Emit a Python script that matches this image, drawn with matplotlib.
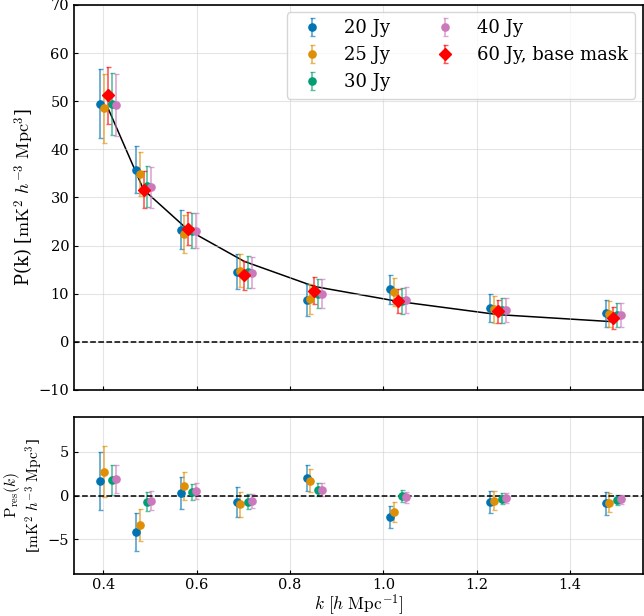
import numpy as np
import matplotlib
matplotlib.use("Agg")
import matplotlib.pyplot as plt

plt.rcParams['font.family'] = 'DejaVu Serif'
plt.rcParams['mathtext.fontset'] = 'cm'

# bin centres in k [h/Mpc]
k_bins = np.array([0.410, 0.486, 0.582, 0.702, 0.852, 1.031, 1.246, 1.493])
dk = 0.0083

labels = ['20 Jy', '25 Jy', '30 Jy', '40 Jy', '60 Jy, base mask']
colors = ['#0173b2', '#de8f05', '#029e73', '#cc78bc', 'red']
markers = ['o', 'o', 'o', 'o', 'D']
shifts = [-2, -1, 1, 2, 0]

# power spectra
p20 = [49.5, 35.8, 23.3, 14.6, 8.7, 10.9, 7.0, 5.9]
e20 = [7.2, 4.8, 4.0, 3.7, 3.3, 2.95, 2.9, 2.8]
p25 = [48.5, 34.9, 22.4, 14.8, 8.9, 10.3, 6.8, 5.8]
e25 = [7.1, 4.6, 3.9, 3.5, 3.2, 2.9, 2.8, 2.7]
p30 = [49.4, 32.3, 23.1, 14.5, 10.0, 8.5, 6.6, 5.6]
e30 = [6.5, 4.2, 3.6, 3.3, 3.0, 2.7, 2.6, 2.45]
p40 = [49.2, 32.1, 23.1, 14.4, 10.0, 8.7, 6.6, 5.6]
e40 = [6.5, 4.2, 3.6, 3.3, 3.0, 2.7, 2.55, 2.45]
p60 = [51.2, 31.6, 23.5, 13.8, 10.6, 8.5, 6.3, 5.0]
e60 = [6.0, 3.9, 3.4, 3.0, 2.8, 2.5, 2.3, 2.3]
model = [48.5, 31.6, 23.2, 16.7, 11.5, 8.4, 5.65, 4.17]

# residuals
r20 = [1.67, -4.2, 0.27, -0.72, 2.0, -2.46, -0.72, -0.9]
re20 = [3.3, 2.15, 1.85, 1.7, 1.5, 1.27, 1.3, 1.28]
r25 = [2.73, -3.37, 1.1, -1.02, 1.7, -1.85, -0.57, -0.8]
re25 = [2.95, 1.85, 1.6, 1.38, 1.3, 1.15, 1.04, 1.08]
r30 = [1.78, -0.68, 0.45, -0.68, 0.65, -0.07, -0.34, -0.49]
re30 = [1.7, 1.06, 0.93, 0.85, 0.75, 0.68, 0.58, 0.55]
r40 = [1.93, -0.57, 0.53, -0.6, 0.68, -0.22, -0.3, -0.45]
re40 = [1.6, 1.08, 0.9, 0.83, 0.75, 0.64, 0.58, 0.55]

pk = [p20, p25, p30, p40, p60]
pk_err = [e20, e25, e30, e40, e60]
res = [r20, r25, r30, r40]
res_err = [re20, re25, re30, re40]


def draw_errorbar(ax, x, y, yerr, color, marker, label=None):
    ms = 6 if marker == 'D' else 5.2
    eb = ax.errorbar(x, y, yerr=yerr, fmt=marker, color=color, ms=ms,
                     elinewidth=1.2, capsize=1.8, capthick=1.0, label=label)
    for c in eb[2]:
        c.set_alpha(0.65)
    for c in eb[1]:
        c.set_alpha(0.65)
    return eb


fig = plt.figure(figsize=(6.44, 6.16), dpi=100)
ax1 = fig.add_axes([0.115, 0.367, 0.883, 0.625])
ax2 = fig.add_axes([0.115, 0.068, 0.883, 0.255], sharex=ax1)

ax1.plot(k_bins, model, color='black', lw=1.1, zorder=1)
for i in range(5):
    draw_errorbar(ax1, k_bins + shifts[i] * dk, pk[i], pk_err[i],
                  colors[i], markers[i], labels[i])
ax1.axhline(0, color='black', ls='--', lw=1.1)
ax1.set_ylim(-10, 70)
ax1.set_yticks(np.arange(-10, 71, 10))
ax1.set_ylabel(r'P(k) [$\mathrm{mK}^2\ h^{-3}\ \mathrm{Mpc}^3$]', fontsize=13,
               labelpad=2)
ax1.tick_params(labelbottom=False)
ax1.legend(loc='upper right', ncol=2, fontsize=13, borderpad=0.4,
           borderaxespad=0.4)

for i in range(4):
    draw_errorbar(ax2, k_bins + shifts[i] * dk, res[i], res_err[i],
                  colors[i], markers[i])
ax2.axhline(0, color='black', ls='--', lw=1.1)
ax2.set_ylim(-9, 9)
ax2.set_yticks([-5, 0, 5])
ax2.set_xlim(0.337, 1.556)
ax2.set_xticks([0.4, 0.6, 0.8, 1.0, 1.2, 1.4])
ax2.set_xlabel(r'$k\ [h\ \mathrm{Mpc}^{-1}]$', fontsize=12.5, labelpad=0)
ax2.set_ylabel('$\\mathrm{P}_{\\mathrm{res}}(k)$\n[$\\mathrm{mK}^2\\ h^{-3}\\ \\mathrm{Mpc}^3$]',
               fontsize=11, labelpad=2, linespacing=1.1)

for ax in (ax1, ax2):
    ax.grid(True, color='#cccccc', alpha=0.5, lw=0.8)
    ax.tick_params(direction='in', labelsize=10.5, length=3)
    for s in ax.spines.values():
        s.set_linewidth(1.2)
ax2.tick_params(axis='x', pad=2.5)

fig.savefig('out.png', dpi=100)
